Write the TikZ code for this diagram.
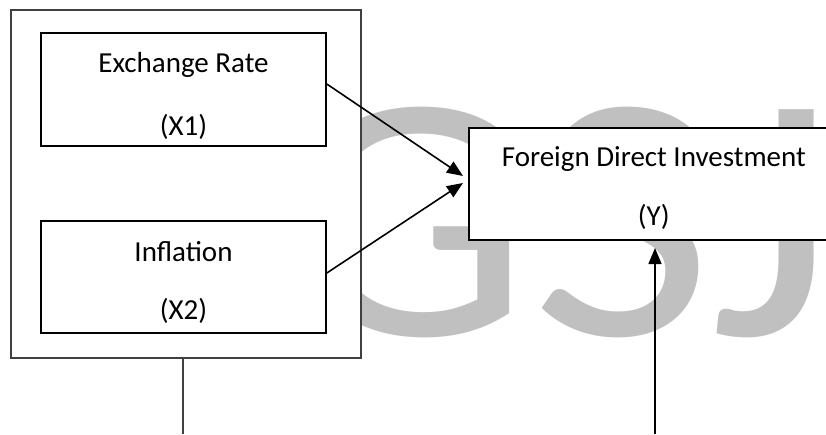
\documentclass[tikz,border=0pt]{standalone}
\usepackage{fontspec}
\setmainfont{Carlito}
\usetikzlibrary{arrows.meta}
\definecolor{wm}{HTML}{C0C0C0}
\tikzset{
  box/.style={draw=black, line width=1.6pt, fill=white, inner sep=0pt, align=center,
    font=\fontsize{29}{60}\selectfont},
  outerbox/.style={draw=black!75, line width=1.7pt, fill=white, inner sep=0pt},
  link/.style={line width=1.6pt, -{Triangle[length=16pt,width=13pt]}},
  plain/.style={line width=1.6pt, draw=black!75},
  mark letter/.style={text=wm, inner sep=0pt, anchor=base west, font=\fontsize{352}{352}\selectfont}
}
\begin{document}
\begin{tikzpicture}[x=1pt,y=-1pt]
\useasboundingbox (0,0) rectangle (826,434);
\clip (0,0) rectangle (826,434);
% watermark
\node[mark letter] (wg) at (281,335) {\scalebox{1.12}[1]{G}};
\node[mark letter] (ws) at (531,335) {\scalebox{1.12}[1]{S}};
\node[mark letter] (wj) at (710,335) {\scalebox{1.12}[1]{J}};
% boxes
\node[outerbox, minimum width=350pt, minimum height=348pt] (outer) at (186,184) {};
\node[box, minimum width=285pt, minimum height=113pt] (er) at (183.5,89.5)
  {\rule{0pt}{34pt}Exchange Rate\\[3pt](X1)};
\node[box, minimum width=285pt, minimum height=112pt] (inf) at (183.5,277)
  {\rule{0pt}{32pt}Inflation\\[-2pt](X2)};
\node[box, minimum width=370pt, minimum height=112pt, anchor=north west] (fdi) at (468,127)
  {\rule{0pt}{28pt}Foreign Direct Investment\\[-1pt](Y)};
\coordinate (tipA) at (463,176);
\coordinate (tipB) at (463,183);
\coordinate (bl) at (183,434);
\coordinate (br) at (655,434);
\coordinate (tipC) at (655,248);
\draw[link] (er.east |- 0,84) -- (tipA);
\draw[link] (inf.east |- 0,273) -- (tipB);
\draw[plain] (outer.south -| bl) -- (bl);
\draw[link] (br) -- (tipC);
\end{tikzpicture}
\end{document}
